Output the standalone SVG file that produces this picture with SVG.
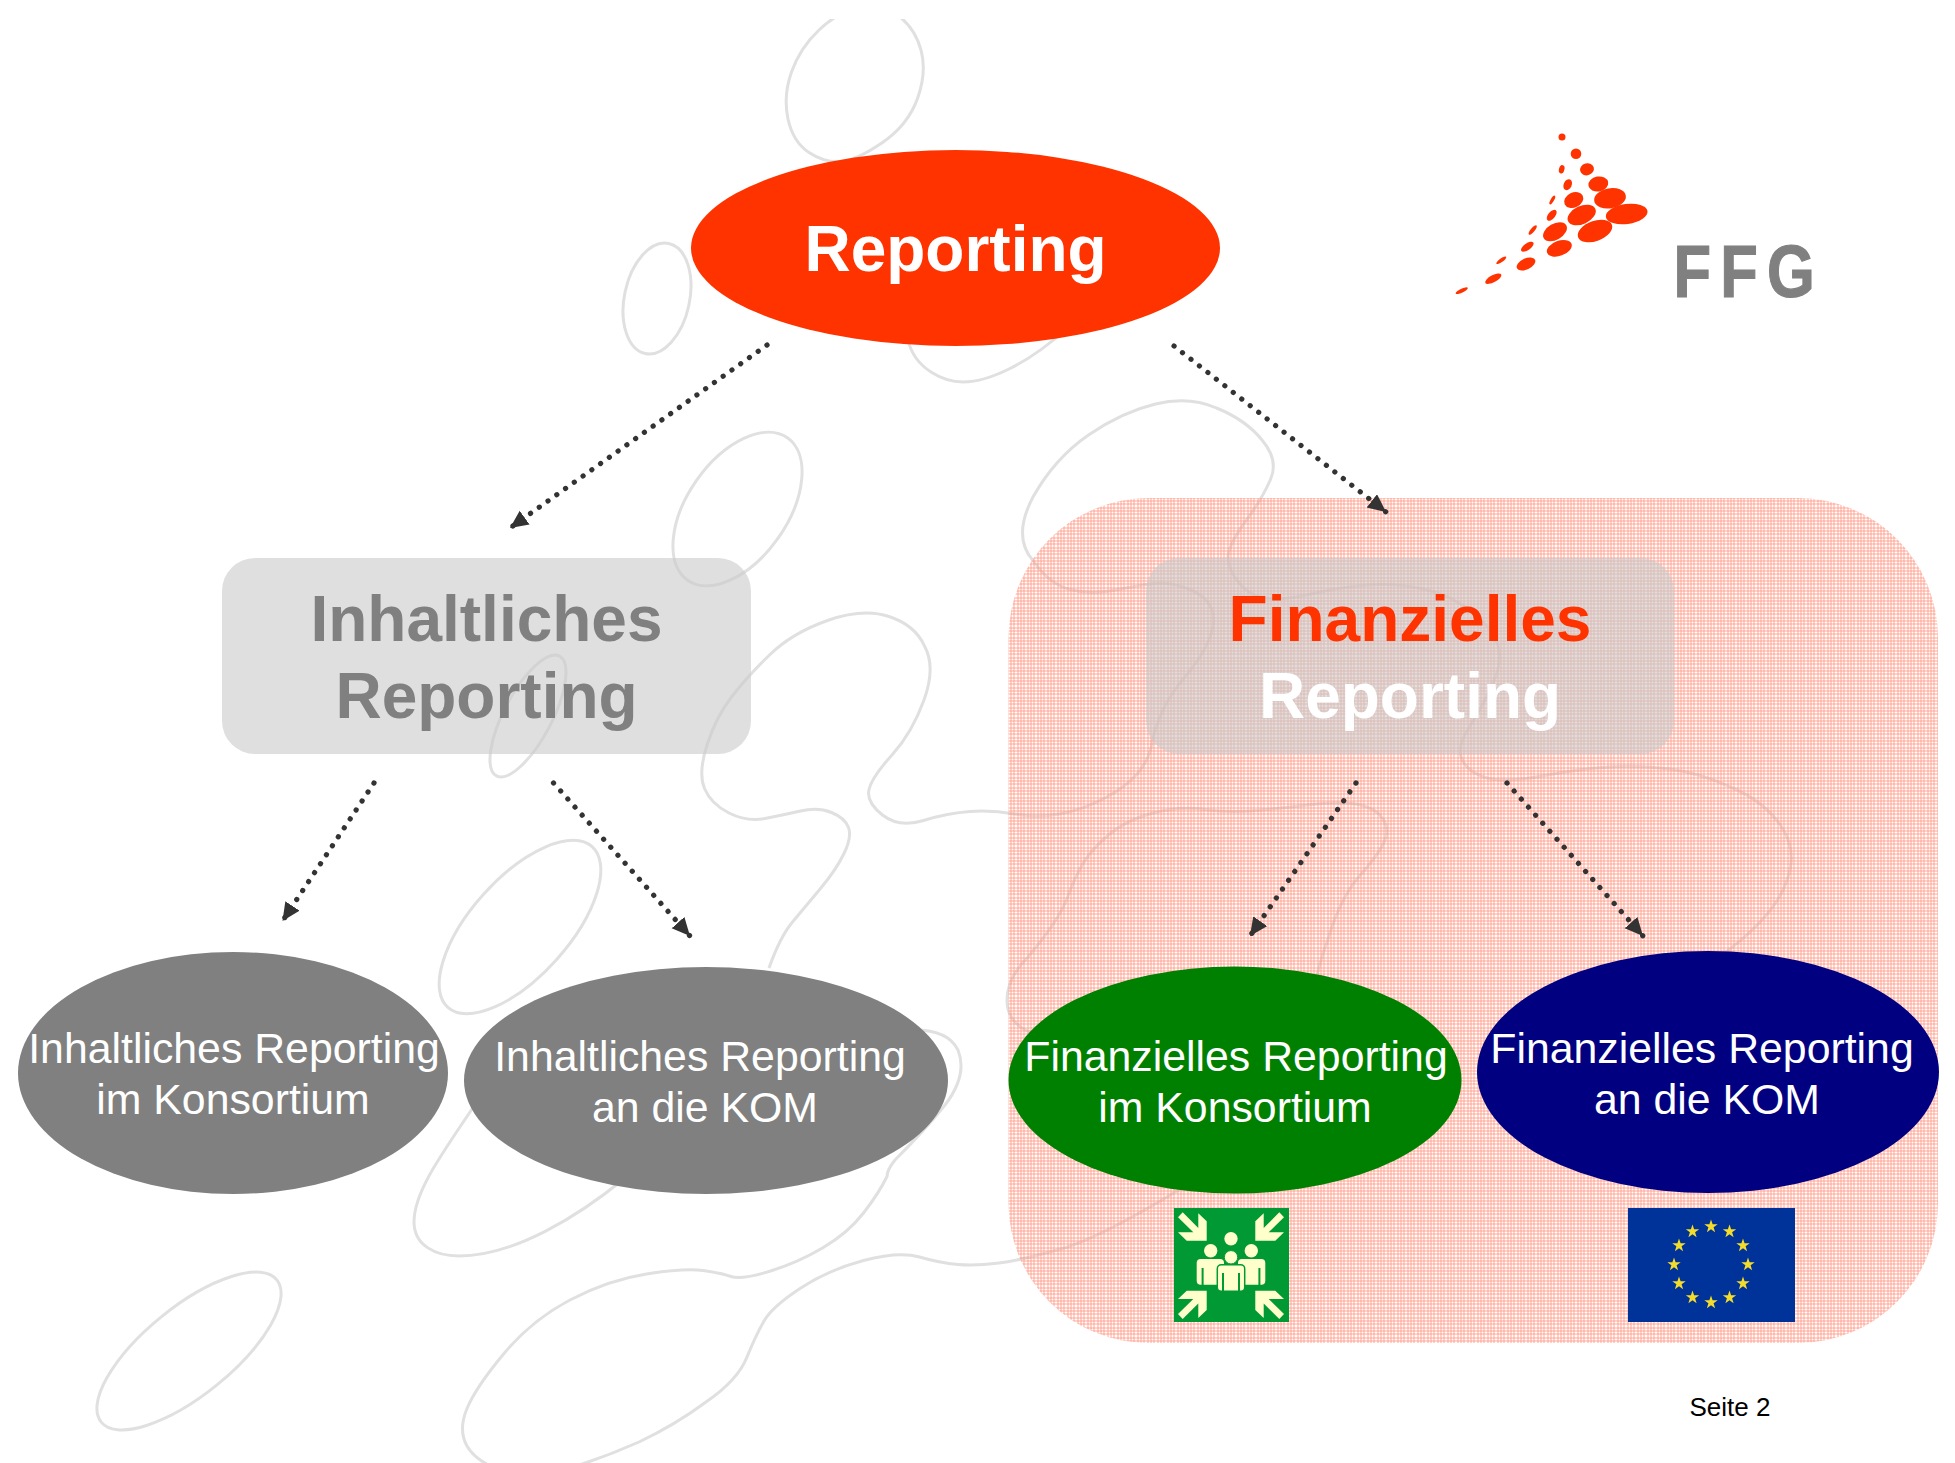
<svg xmlns="http://www.w3.org/2000/svg" xmlns:xlink="http://www.w3.org/1999/xlink" width="1955" height="1463" viewBox="0 0 1955 1463">
<style>
text{font-family:"Liberation Sans",Arial,sans-serif;text-anchor:middle}
.h{font-size:64px;font-weight:700}
.s{font-size:42.8px;fill:#fff}
.sc{fill:none;stroke:#e0e0e0;stroke-width:3}
.box{fill:#c9c9c9;fill-opacity:.6}
.conn{fill:none;stroke:#333;stroke-width:5.2;stroke-linecap:round;stroke-dasharray:.1 10.65;marker-end:url(#arrow)}
.logo ellipse{fill:#ff3300}
.cr{fill:#ffffcc}
.gs{fill:#009933}
.star{fill:#f4dc2c}
</style>
<defs>
<clipPath id="bg"><rect x="0" y="19" width="1955" height="1444"/></clipPath>
<pattern id="grid" patternUnits="userSpaceOnUse" x="0" y="0" width="10" height="10">
<g fill="#ff9c8a" fill-opacity=".45" shape-rendering="crispEdges">
<rect x="0" y="0" width="2" height="10"/><rect x="3" y="0" width="2" height="10"/><rect x="7" y="0" width="2" height="10"/>
<rect x="0" y="0" width="10" height="2"/><rect x="3" y="3" width="0" height="0"/><rect x="0" y="3" width="10" height="2"/><rect x="0" y="7" width="10" height="2"/>
</g>
</pattern>
<marker id="arrow" markerUnits="userSpaceOnUse" markerWidth="22" markerHeight="20" refX="18" refY="8.5" orient="auto">
<path d="M0 0L18 8.5L0 17Z" fill="#333"/>
</marker>
<polygon id="sa" class="cr" points="1178,1217.3 1182.7,1212.3 1198.3,1228 1198.3,1213.3 1206.7,1221.3 1206.7,1240.7 1186.7,1240.7 1178,1232.3 1193.3,1232.3"/>
<polygon id="st" class="star" points="0,-7 1.6,-2.2 6.7,-2.2 2.6,.8 4.1,5.7 0,2.7 -4.1,5.7 -2.6,.8 -6.7,-2.2 -1.6,-2.2"/>
</defs>
<rect width="1955" height="1463" fill="#fff"/>
<g id="scribble" clip-path="url(#bg)">
<path class="sc" d="M921 50Q927 72 917.5 98.5Q908 125 882.5 142.5Q857 160 841 161.5Q825 163 809 152.5Q793 142 788 119Q783 96 791.5 72Q800 48 819 30Q838 12 859 7Q880 2 897.5 15Q915 28 921 50Z"/>
<ellipse class="sc" cx="657" cy="298.5" rx="32.6" ry="56.3" transform="rotate(12 657 298.5)"/>
<path class="sc" d="M908 340C915 370 945 382 963 382C990 382 1030 362 1065 330"/>
<ellipse class="sc" cx="737.5" cy="509" rx="50" ry="87" transform="rotate(35 737.5 509)"/>
<ellipse class="sc" cx="528" cy="716" rx="24" ry="67.7" transform="rotate(27.7 528 716)"/>
<ellipse class="sc" cx="520" cy="927" rx="49" ry="108" transform="rotate(41.9 520 927)"/>
<ellipse class="sc" cx="189" cy="1351" rx="44" ry="113" transform="rotate(51 189 1351)"/>
<path class="sc" d="M478 1100C445 1150 414 1190 414 1222C414 1245 435 1256 459 1256C515 1256 580 1215 625 1178"/>
<path class="sc" d="M769 968Q780 937 792.5 922Q805 907 820.5 888.5Q836 870 844 853.5Q852 837 848.5 827.5Q845 818 831.5 812.5Q818 807 800.5 811Q783 815 765 818.5Q747 822 729 813Q711 804 704.5 788.5Q698 773 707 745Q716 717 731.5 697Q747 677 769.5 655Q792 633 827.5 620.5Q863 608 889 616.5Q915 625 924.5 646Q936 667 924 700Q912 733 892 755Q872 777 869 789.5Q866 802 882.5 815Q899 828 923.5 820.5Q948 813 970 811.5Q992 810 1014.5 814Q1037 818 1059.5 814Q1082 810 1104 798.5Q1126 787 1137.5 773.5Q1149 760 1152 743.5Q1155 727 1163 710Q1171 693 1186.5 675Q1202 657 1209.5 638.5Q1217 620 1211 607.5Q1205 595 1187.5 588.5Q1170 582 1155 583.5Q1140 585 1115.5 590Q1091 595 1070 589.5Q1049 584 1033 560.5Q1012 537 1033 497Q1055 458 1088.5 435Q1122 412 1155.5 404Q1189 396 1216.5 408Q1246 420 1262 440Q1279 460 1270.5 479.5Q1262 499 1246.5 520Q1231 541 1228.5 553.5Q1226 566 1238 581.5Q1250 597 1268 598.5Q1286 600 1313.5 593.5Q1341 587 1368.5 585Q1396 583 1423.5 589Q1451 595 1472 612Q1493 629 1498 645.5Q1503 662 1492 685.5Q1481 709 1468.5 728.5Q1456 748 1462.5 760.5Q1469 773 1487 778Q1505 783 1542 776Q1579 769 1609 767Q1639 765 1669.5 769Q1700 773 1730.5 787Q1764 801 1781 826Q1798 851 1787 880Q1776 915 1722 955"/>
<path class="sc" d="M915 1030Q948 1030 958 1050Q968 1075 945 1105Q925 1130 895 1160Q887 1170 887 1176.5Q879 1193 863.5 1213Q848 1233 822.5 1248Q797 1263 769 1271.5Q741 1280 731 1276.5Q721 1273 703 1270.5Q685 1268 646.5 1274Q608 1280 570 1300Q532 1320 504 1353.5Q476 1387 467 1408.5Q458 1430 467 1446Q476 1462 503 1471Q530 1480 566.5 1469Q603 1458 639 1442Q675 1425 706 1402Q738 1380 747 1357Q756 1335 764 1321Q772 1307 800 1288.5Q828 1270 863.5 1260.5Q899 1251 919.5 1257Q940 1263 958 1264.5Q976 1266 999 1263Q1022 1260 1062.5 1248.5Q1103 1237 1195 1180"/>
<path class="sc" d="M1035 1034Q1007 1025 1007 1000Q1007 978 1028 957Q1059 920 1067 898.5Q1075 877 1083 863.5Q1091 850 1108.5 835Q1126 820 1153 813Q1180 806 1204.5 809.5Q1229 813 1256 810.5Q1283 808 1312 804.5Q1341 801 1358.5 804.5Q1376 808 1383 819Q1390 830 1384 842.5Q1378 855 1359.5 876Q1341 897 1329 936Q1322 955 1317 975"/>
</g>
<g id="panel-finanziell"><rect x="1008.5" y="498" width="929.5" height="845" rx="140" ry="140" fill="url(#grid)"/></g>
<g id="node-inhaltlich"><rect class="box" x="222" y="558" width="529" height="196" rx="33"/>
<text class="h" fill="#808080"><tspan x="486.5" y="641">Inhaltliches</tspan><tspan x="486.5" y="718">Reporting</tspan></text></g>
<g id="node-finanziell"><rect class="box" x="1146" y="558" width="528" height="196" rx="33"/>
<text class="h"><tspan x="1410" y="641" fill="#ff3300">Finanzielles</tspan><tspan x="1410" y="717.5" fill="#fff">Reporting</tspan></text></g>
<g id="connectors">
<path class="conn" d="M767 345L510 528"/>
<path class="conn" d="M1174 346L1386 512"/>
<path class="conn" d="M374 783L282.5 921"/>
<path class="conn" d="M553.5 783L690 936"/>
<path class="conn" d="M1356 783L1250 936"/>
<path class="conn" d="M1507 783L1643 936"/>
</g>
<g id="node-reporting"><ellipse cx="955.5" cy="248" rx="264.5" ry="98" fill="#ff3300"/><text class="h" x="955.5" y="271" fill="#fff">Reporting</text></g>
<g id="node-inh-kons"><ellipse cx="233" cy="1073" rx="215" ry="121" fill="#808080"/><text class="s"><tspan x="234" y="1063">Inhaltliches Reporting</tspan><tspan x="233" y="1114">im Konsortium</tspan></text></g>
<g id="node-inh-kom"><ellipse cx="706" cy="1080.5" rx="242" ry="113.5" fill="#808080"/><text class="s"><tspan x="700" y="1071">Inhaltliches Reporting</tspan><tspan x="705" y="1122">an die KOM</tspan></text></g>
<g id="node-fin-kons"><ellipse cx="1235" cy="1080" rx="226.5" ry="113.5" fill="#008000"/><text class="s"><tspan x="1236" y="1071">Finanzielles Reporting</tspan><tspan x="1235" y="1122">im Konsortium</tspan></text></g>
<g id="node-fin-kom"><ellipse cx="1708" cy="1072" rx="231" ry="121" fill="#000080"/><text class="s"><tspan x="1702" y="1063">Finanzielles Reporting</tspan><tspan x="1707" y="1114">an die KOM</tspan></text></g>
<g id="logo-ffg" class="logo">
<ellipse cx="1562" cy="137" rx="3.5" ry="3.5"/>
<ellipse cx="1576" cy="153.7" rx="5.3" ry="5.3"/>
<ellipse cx="1587" cy="169.3" rx="7" ry="6" transform="rotate(-15 1587 169.3)"/>
<ellipse cx="1561.7" cy="169.3" rx="2.7" ry="4.3" transform="rotate(15 1561.7 169.3)"/>
<ellipse cx="1598.3" cy="184" rx="10" ry="7.5" transform="rotate(-10 1598.3 184)"/>
<ellipse cx="1567.7" cy="184.7" rx="4" ry="5.7" transform="rotate(25 1567.7 184.7)"/>
<ellipse cx="1610" cy="198.3" rx="16" ry="10" transform="rotate(-10 1610 198.3)"/>
<ellipse cx="1573.7" cy="200" rx="10" ry="7.5" transform="rotate(-25 1573.7 200)"/>
<ellipse cx="1552.3" cy="200" rx="1.7" ry="5" transform="rotate(30 1552.3 200)"/>
<ellipse cx="1626.7" cy="214" rx="21" ry="10" transform="rotate(-8 1626.7 214)"/>
<ellipse cx="1581.7" cy="215" rx="15" ry="9" transform="rotate(-25 1581.7 215)"/>
<ellipse cx="1551.7" cy="215.3" rx="6.5" ry="3.5" transform="rotate(-50 1551.7 215.3)"/>
<ellipse cx="1532.7" cy="230" rx="6" ry="2" transform="rotate(-50 1532.7 230)"/>
<ellipse cx="1555" cy="231.7" rx="13" ry="8" transform="rotate(-30 1555 231.7)"/>
<ellipse cx="1595" cy="231" rx="18" ry="10" transform="rotate(-20 1595 231)"/>
<ellipse cx="1559.3" cy="248.3" rx="13" ry="7.5" transform="rotate(-20 1559.3 248.3)"/>
<ellipse cx="1527.3" cy="246.7" rx="7.3" ry="3.3" transform="rotate(-35 1527.3 246.7)"/>
<ellipse cx="1526" cy="264" rx="10" ry="5.5" transform="rotate(-25 1526 264)"/>
<ellipse cx="1501.3" cy="260.3" rx="6" ry="1.8" transform="rotate(-35 1501.3 260.3)"/>
<ellipse cx="1493.3" cy="278.7" rx="9" ry="3.5" transform="rotate(-28 1493.3 278.7)"/>
<ellipse cx="1461.7" cy="290.7" rx="6.7" ry="2" transform="rotate(-25 1461.7 290.7)"/>
<text transform="translate(0 297) scale(.82 1)" x="2041 2098 2155" y="0" style="font-size:75px;font-weight:700;fill:#808080;stroke:#808080;stroke-width:1.2;text-anchor:start">FFG</text>
</g>
<g id="icon-sammelpunkt">
<rect class="gs" x="1174" y="1208" width="115" height="114"/>
<use href="#sa" xlink:href="#sa"/>
<use href="#sa" xlink:href="#sa" transform="translate(2462 0) scale(-1 1)"/>
<use href="#sa" xlink:href="#sa" transform="translate(0 2531.4) scale(1 -1)"/>
<use href="#sa" xlink:href="#sa" transform="translate(2462 2531.4) scale(-1 -1)"/>
<circle class="cr" cx="1231" cy="1238.7" r="6.7"/>
<circle class="cr" cx="1210.7" cy="1250.7" r="6.7"/>
<circle class="cr" cx="1251.3" cy="1250.7" r="6.7"/>
<rect class="cr" x="1196.7" y="1259" width="27.3" height="25.7" rx="4"/>
<rect class="cr" x="1238" y="1259" width="27.3" height="25.7" rx="4"/>
<rect class="gs" x="1201.6" y="1268" width="2" height="17"/>
<rect class="gs" x="1258.4" y="1268" width="2" height="17"/>
<circle class="cr" cx="1231" cy="1257.3" r="6.7" stroke="#009933" stroke-width="1"/>
<rect class="cr" x="1217.3" y="1264.7" width="27.4" height="26.6" rx="4" stroke="#009933" stroke-width="1.5"/>
<rect class="gs" x="1222" y="1273" width="2" height="18"/>
<rect class="gs" x="1238" y="1273" width="2" height="18"/>
</g>
<g id="icon-eu">
<rect x="1628" y="1208" width="167" height="114" fill="#003399"/>
<use href="#st" xlink:href="#st" x="1711" y="1226.5"/>
<use href="#st" xlink:href="#st" x="1729.5" y="1231.5"/>
<use href="#st" xlink:href="#st" x="1743" y="1245.5"/>
<use href="#st" xlink:href="#st" x="1748" y="1264.5"/>
<use href="#st" xlink:href="#st" x="1743" y="1283.5"/>
<use href="#st" xlink:href="#st" x="1729.5" y="1297.5"/>
<use href="#st" xlink:href="#st" x="1711" y="1302.5"/>
<use href="#st" xlink:href="#st" x="1692.5" y="1297.5"/>
<use href="#st" xlink:href="#st" x="1679" y="1283.5"/>
<use href="#st" xlink:href="#st" x="1674" y="1264.5"/>
<use href="#st" xlink:href="#st" x="1679" y="1245.5"/>
<use href="#st" xlink:href="#st" x="1692.5" y="1231.5"/>
</g>
<g id="page-number"><text x="1730" y="1416" font-size="26" fill="#000">Seite 2</text></g>
</svg>
